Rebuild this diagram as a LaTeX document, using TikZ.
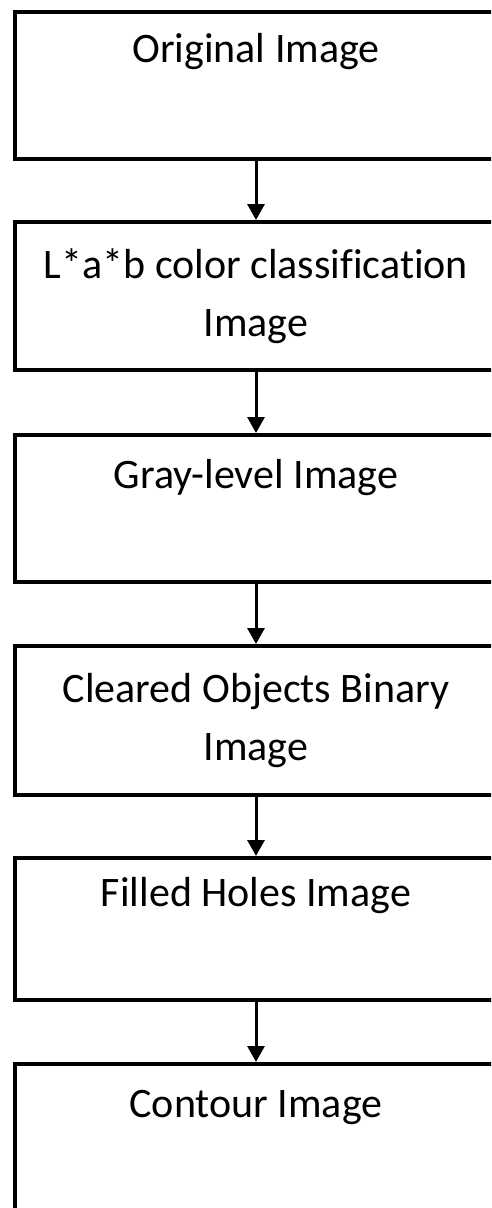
\documentclass[tikz,border=0pt]{standalone}
\usepackage{fontspec}
\setmainfont{Carlito}[Ligatures={NoCommon,NoContextual}]
\usetikzlibrary{arrows.meta}
\begin{document}
\begin{tikzpicture}[x=1pt,y=-1pt,
  box/.style={draw=black,line width=4pt,rectangle,minimum width=482pt,inner sep=0pt},
  lbl/.style={anchor=base,inner sep=0pt,font=\fontsize{42}{58}\selectfont,align=center},
  flow/.style={line width=3pt,-{Triangle[length=16pt,width=17pt]}}]
\useasboundingbox (0,0) rectangle (491,1208);
\clip (0,0) rectangle (491,1208);
\fill[white] (0,0) rectangle (491,1208);
\node[box,minimum height=146.5pt] (b1) at (256,85.25) {};
\node[box,minimum height=148pt] (b2) at (256,296) {};
\node[box,minimum height=147pt] (b3) at (256,508.5) {};
\node[box,minimum height=149pt] (b4) at (256,720.5) {};
\node[box,minimum height=142pt] (b5) at (256,929) {};
\node[box,minimum height=148pt] (b6) at (256,1138) {};
\node[lbl] (t1) at (256,62) {Original Image};
\node[lbl] (t2) at (256,336) {L*a*b color classification\\Image};
\node[lbl] (t3) at (256,488) {Gray-level Image};
\node[lbl] (t4) at (256,760) {Cleared Objects Binary\\Image};
\node[lbl] (t5) at (256,906) {Filled Holes Image};
\node[lbl] (t6) at (256,1117) {Contour Image};
\draw[flow] (b1.south) -- (b2.north);
\draw[flow] (b2.south) -- (b3.north);
\draw[flow] (b3.south) -- (b4.north);
\draw[flow] (b4.south) -- (b5.north);
\draw[flow] (b5.south) -- (b6.north);
\end{tikzpicture}
\end{document}
